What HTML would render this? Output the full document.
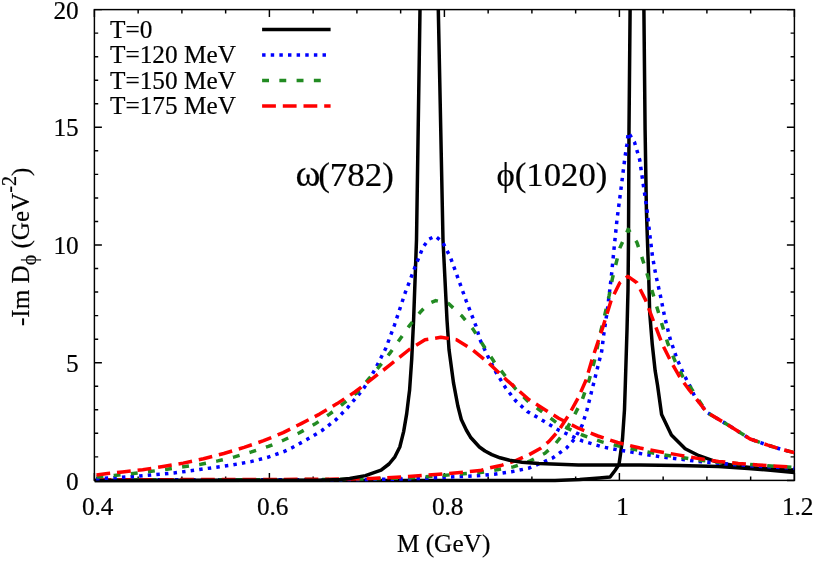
<!DOCTYPE html>
<html><head><meta charset="utf-8"><title>Spectral functions</title>
<style>
html,body{margin:0;padding:0;background:#fff;}
body{width:814px;height:562px;overflow:hidden;font-family:"Liberation Serif",serif;}
svg{display:block;will-change:transform;}
text{font-family:"Liberation Serif",serif;fill:#000;stroke:#000;stroke-width:0.2px;}
</style></head><body>
<svg width="814" height="562" viewBox="0 0 814 562">
<rect x="0" y="0" width="814" height="562" fill="#fff"/>

<g stroke="#000" stroke-width="1.45" fill="none" stroke-linecap="butt">
<rect x="94.4" y="9.6" width="700.0" height="470.79999999999995"/>
<path d="M94.40 480.4v-7.5M94.40 9.6v7.5M138.15 480.4v-3.8M138.15 9.6v3.8M181.90 480.4v-3.8M181.90 9.6v3.8M225.65 480.4v-3.8M225.65 9.6v3.8M269.40 480.4v-7.5M269.40 9.6v7.5M313.15 480.4v-3.8M313.15 9.6v3.8M356.90 480.4v-3.8M356.90 9.6v3.8M400.65 480.4v-3.8M400.65 9.6v3.8M444.40 480.4v-7.5M444.40 9.6v7.5M488.15 480.4v-3.8M488.15 9.6v3.8M531.90 480.4v-3.8M531.90 9.6v3.8M575.65 480.4v-3.8M575.65 9.6v3.8M619.40 480.4v-7.5M619.40 9.6v7.5M663.15 480.4v-3.8M663.15 9.6v3.8M706.90 480.4v-3.8M706.90 9.6v3.8M750.65 480.4v-3.8M750.65 9.6v3.8M794.40 480.4v-7.5M794.40 9.6v7.5M94.4 480.40h7.5M794.4 480.40h-7.5M94.4 456.86h3.8M794.4 456.86h-3.8M94.4 433.32h3.8M794.4 433.32h-3.8M94.4 409.78h3.8M794.4 409.78h-3.8M94.4 386.24h3.8M794.4 386.24h-3.8M94.4 362.70h7.5M794.4 362.70h-7.5M94.4 339.16h3.8M794.4 339.16h-3.8M94.4 315.62h3.8M794.4 315.62h-3.8M94.4 292.08h3.8M794.4 292.08h-3.8M94.4 268.54h3.8M794.4 268.54h-3.8M94.4 245.00h7.5M794.4 245.00h-7.5M94.4 221.46h3.8M794.4 221.46h-3.8M94.4 197.92h3.8M794.4 197.92h-3.8M94.4 174.38h3.8M794.4 174.38h-3.8M94.4 150.84h3.8M794.4 150.84h-3.8M94.4 127.30h7.5M794.4 127.30h-7.5M94.4 103.76h3.8M794.4 103.76h-3.8M94.4 80.22h3.8M794.4 80.22h-3.8M94.4 56.68h3.8M794.4 56.68h-3.8M94.4 33.14h3.8M794.4 33.14h-3.8M94.4 9.60h7.5M794.4 9.60h-7.5"/>
</g>
<defs><clipPath id="c"><rect x="94.4" y="9.6" width="700.0" height="473.79999999999995"/></clipPath></defs>
<g fill="none" stroke-width="3.5" stroke-linejoin="round" stroke-linecap="butt" clip-path="url(#c)">
<path stroke="#000" d="M94.5 480.4L555.0 480.4L579.7 479.6L599.3 477.9L610.1 477.0L615.0 470.5L619.0 464.6L620.4 454.7L621.7 444.9L622.5 439.0L624.5 409.5L625.3 385.0L627.0 330.0L628.0 290.0L628.5 240.0L629.0 130.0L630.1 9.5M643.9 9.5L645.1 130.0L646.4 210.0L648.7 276.5L649.7 312.7L652.3 344.8L655.1 370.4L657.5 385.0L661.6 414.4L671.4 435.0L685.2 448.8L699.0 455.7L718.6 462.6L738.3 466.3L757.9 468.2L777.6 469.3L794.3 470.0"/>
<path stroke="#0000ff" stroke-dasharray="3.45 5.18" stroke-dashoffset="-2.7" d="M94.5 479.8L330.0 479.8L408.0 479.0L480.0 475.6L494.3 474.2L511.5 471.7L528.7 468.2L545.0 461.3L552.8 457.9L560.0 452.7L566.5 448.0L574.3 439.3L582.2 425.2L587.1 409.5L591.0 393.8L594.0 382.0L597.4 368.3L601.7 351.2L603.8 334.1L607.0 312.7L609.6 291.4L611.5 275.0L614.1 248.1L617.0 219.6L620.7 191.1L624.8 158.5L626.9 144.3L628.3 132.4L634.5 142.2L639.7 159.8L643.4 185.5L646.8 208.2L649.7 233.8L652.5 256.6L655.8 275.0L660.4 295.6L664.7 317.0L670.0 338.4L676.5 357.6L683.9 374.7L690.3 386.5L694.5 396.0L706.8 412.4L728.5 425.2L750.1 439.0L767.8 445.2L781.5 449.4L794.3 452.6"/>
<path stroke="#228b22" stroke-dasharray="6.90 10.35" stroke-dashoffset="-3.4" d="M94.5 479.8L330.0 479.6L408.0 478.0L480.0 472.6L493.4 470.4L513.2 466.9L530.4 460.9L545.0 453.2L554.7 444.6L564.5 432.6L574.3 415.4L582.2 399.7L588.8 381.1L594.2 361.9L600.6 332.0L605.3 312.7L609.1 295.6L612.4 278.5L619.8 248.1L628.2 229.3L636.9 242.4L642.6 259.4L648.3 277.9L652.9 293.5L657.9 310.6L662.6 326.6L667.9 343.7L675.4 361.9L682.9 376.8L691.4 388.6L706.8 412.4L728.5 425.2L750.1 439.0L767.8 445.2L781.5 449.4L794.3 452.6"/>
<path stroke="#ff0000" stroke-dasharray="13.80 6.90" stroke-dashoffset="-3" d="M94.5 479.8L330.0 479.3L371.0 478.5L408.6 476.5L448.0 473.5L480.0 470.6L490.0 467.8L502.0 465.2L515.8 460.6L528.7 454.9L540.7 448.2L548.8 441.6L558.6 430.6L568.5 415.4L578.3 397.7L586.1 380.0L592.0 359.7L602.7 327.7L611.3 299.9L619.8 282.8L627.9 276.4L636.9 282.8L645.5 299.9L654.0 322.4L662.6 344.8L671.1 361.9L679.7 376.8L688.2 388.6L693.1 394.7L706.8 412.4L728.5 425.2L750.1 439.0L767.8 445.2L781.5 449.4L794.3 452.6"/>
<path stroke="#000" d="M94.5 480.4L320.0 480.2L340.0 479.4L349.7 478.5L365.4 475.6L381.1 470.2L389.0 464.0L394.9 456.8L399.8 447.0L403.7 431.3L406.7 413.6L408.6 397.9L409.6 390.0L411.7 359.3L413.6 320.0L416.5 240.0L420.0 9.5M438.3 9.5L443.0 240.0L447.0 320.0L449.0 349.5L453.5 382.9L457.8 405.7L461.3 419.5L466.3 430.0L470.5 437.2L479.4 447.0L485.0 451.0L491.8 454.6L500.0 457.8L509.5 460.2L522.0 462.2L539.0 463.5L578.3 464.9L640.0 465.0L679.3 465.5L718.6 466.5L748.1 468.5L767.8 470.0L794.3 472.5"/>
<path stroke="#0000ff" stroke-dasharray="3.45 5.18" stroke-dashoffset="-1.6" d="M94.5 478.8L104.2 478.2L121.8 477.3L138.6 476.1L156.2 474.5L173.8 472.9L190.7 470.8L199.5 469.5L216.4 467.2L233.2 464.8L250.8 461.6L267.7 457.3L283.9 451.6L291.6 448.0L306.8 439.6L322.0 430.5L335.6 420.0L347.6 407.7L358.9 394.4L364.5 387.2L373.3 372.5L377.9 363.8L385.7 348.5L394.5 325.0L405.2 292.7L415.0 267.2L422.9 247.5L428.8 239.2L435.2 236.2L442.6 242.0L450.4 257.3L458.3 279.0L466.1 300.6L476.0 326.1L480.0 339.7L487.9 356.4L495.8 372.0L505.6 387.8L515.5 400.6L527.2 411.4L539.0 418.3L558.6 430.1L582.2 440.9L601.9 446.8L617.6 449.8L640.0 453.5L659.7 456.7L679.3 459.0L699.0 461.6L718.6 463.3L738.3 464.8L757.9 466.2L794.3 468.2"/>
<path stroke="#228b22" stroke-dasharray="6.90 10.35" stroke-dashoffset="-2" d="M94.5 477.3L114.3 475.4L133.2 473.5L149.5 471.6L167.0 469.2L183.2 466.8L200.8 464.2L217.7 460.9L234.6 456.9L251.5 451.9L268.4 446.4L283.9 440.0L299.0 433.0L314.8 424.1L329.2 414.4L342.8 404.0L357.3 392.3L368.5 379.2L377.9 368.2L389.7 353.4L399.5 339.7L409.1 326.1L420.9 311.4L428.8 303.5L435.7 300.6L448.5 303.5L462.2 316.3L473.0 329.1L484.0 346.5L493.8 361.3L503.7 374.0L515.5 388.8L527.2 400.6L539.0 409.5L558.6 424.2L582.2 435.0L601.9 441.9L617.6 445.8L640.0 450.5L659.7 454.2L679.3 457.2L699.0 460.2L718.6 462.2L738.3 463.8L757.9 465.1L794.3 467.4"/>
<path stroke="#ff0000" stroke-dasharray="13.80 6.90" stroke-dashoffset="-2" d="M94.5 475.3L107.6 473.6L122.4 471.9L142.7 469.7L163.0 466.6L183.2 463.1L203.5 458.7L223.8 453.5L244.1 447.4L263.6 440.7L283.2 432.6L301.2 423.6L319.6 414.1L337.2 403.6L354.9 392.0L371.7 379.2L389.7 365.2L409.3 349.5L425.0 339.7L440.8 337.3L456.5 339.7L472.2 349.5L487.9 362.3L507.6 380.9L529.1 399.7L558.6 418.3L578.3 428.2L597.9 436.0L617.6 442.5L640.0 448.0L659.7 451.7L679.3 455.1L699.0 458.6L718.6 461.4L738.3 463.4L757.9 464.9L777.6 466.2L794.3 467.2"/>
</g>
<text transform="translate(110.00 38.00) scale(1 0.985)" font-size="25.3">T=0</text>
<path d="M262.1 29.60H330.6" stroke="#000" stroke-width="3.5" fill="none"/>
<text transform="translate(110.00 63.47) scale(1 0.985)" font-size="25.3">T=120 MeV</text>
<path d="M262.1 55.07H330.6" stroke="#0000ff" stroke-width="3.5" stroke-dasharray="3.45 5.18" fill="none"/>
<text transform="translate(110.00 88.94) scale(1 0.985)" font-size="25.3">T=150 MeV</text>
<path d="M262.1 80.54H330.6" stroke="#228b22" stroke-width="3.5" stroke-dasharray="6.90 10.35" fill="none"/>
<text transform="translate(110.00 114.41) scale(1 0.985)" font-size="25.3">T=175 MeV</text>
<path d="M262.1 106.01H330.6" stroke="#ff0000" stroke-width="3.5" stroke-dasharray="13.80 6.90" fill="none"/>
<text transform="translate(78.70 489.50) scale(1 0.985)" font-size="25.3" text-anchor="end">0</text>
<text transform="translate(78.70 371.80) scale(1 0.985)" font-size="25.3" text-anchor="end">5</text>
<text transform="translate(78.70 254.10) scale(1 0.985)" font-size="25.3" text-anchor="end">10</text>
<text transform="translate(78.70 136.40) scale(1 0.985)" font-size="25.3" text-anchor="end">15</text>
<text transform="translate(78.70 18.70) scale(1 0.985)" font-size="25.3" text-anchor="end">20</text>
<text transform="translate(97.70 515.00) scale(1 0.985)" font-size="25.3" text-anchor="middle">0.4</text>
<text transform="translate(272.70 515.00) scale(1 0.985)" font-size="25.3" text-anchor="middle">0.6</text>
<text transform="translate(447.70 515.00) scale(1 0.985)" font-size="25.3" text-anchor="middle">0.8</text>
<text transform="translate(622.70 515.00) scale(1 0.985)" font-size="25.3" text-anchor="middle">1</text>
<text transform="translate(797.70 515.00) scale(1 0.985)" font-size="25.3" text-anchor="middle">1.2</text>
<text transform="translate(443.60 552.40) scale(1 0.985)" font-size="25.3" text-anchor="middle">M (GeV)</text>
<text transform="translate(28.70 326.00) rotate(-90) scale(0.9925 0.985)" font-size="25.3">-Im D<tspan font-size="20.24" dy="7.6">ϕ</tspan><tspan dy="-7.6"> (GeV</tspan><tspan font-size="20.24" dy="-13.2">-2</tspan><tspan dy="13.2">)</tspan></text>
<text transform="translate(295.60 185.80) scale(1 0.98)" font-size="38">ω</text>
<text transform="translate(318.20 185.80) scale(1 0.98)" font-size="35.0">(782)</text>
<text transform="translate(496.40 186.30) scale(1 0.98)" font-size="34.8">ϕ(1020)</text>
</svg>
</body></html>
